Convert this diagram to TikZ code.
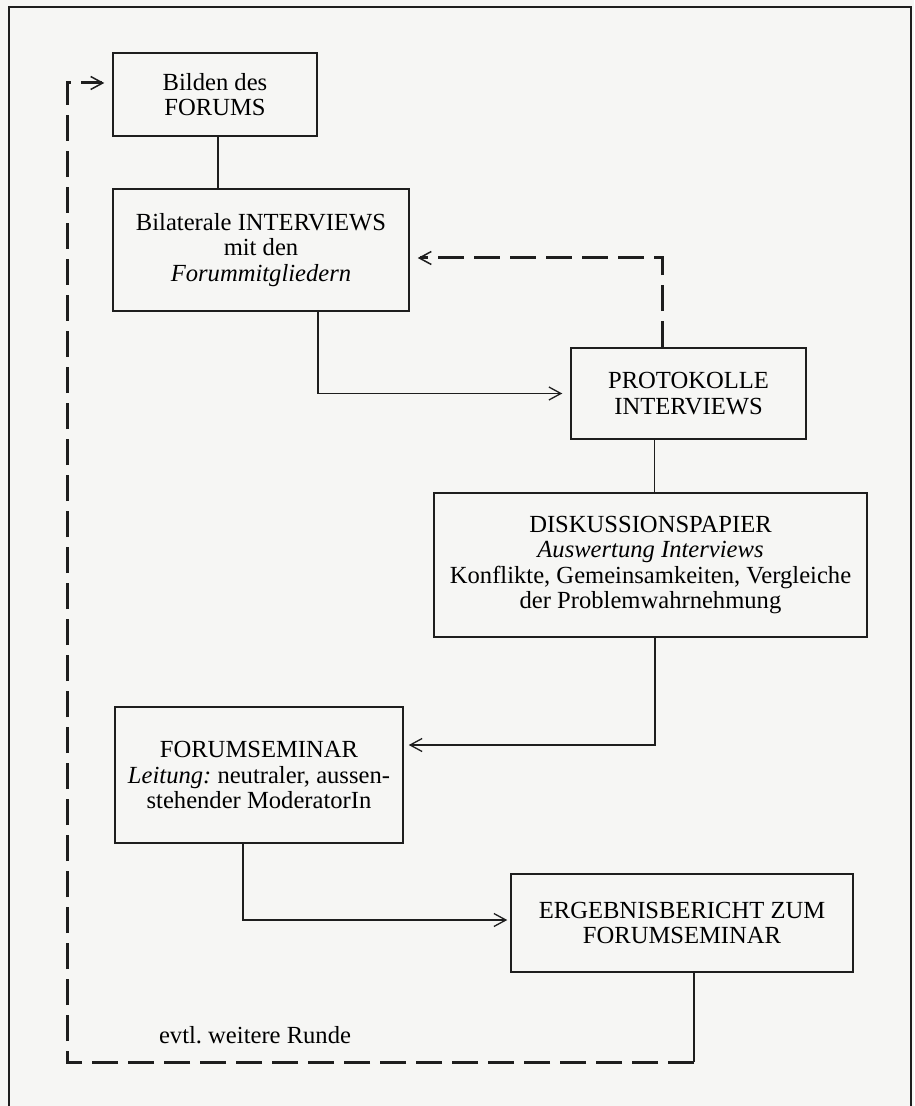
\documentclass[tikz,border=0pt]{standalone}
\usepackage{fontspec}
\setmainfont{Liberation Serif}
\usetikzlibrary{arrows.meta}
\definecolor{grund}{RGB}{246,246,244}
\definecolor{tinte}{RGB}{30,30,30}
\frenchspacing
\begin{document}
\begin{tikzpicture}[x=0.5pt,y=-0.5pt,
  kasten/.style={draw=tinte,line width=0.75pt,align=center,inner sep=0pt,font=\fontsize{12.3}{12.6}\selectfont},
  linie/.style={draw=tinte,line width=0.75pt},
  pfeil/.style={linie,-{Straight Barb[length=6pt,width=6.5pt,line width=0.65pt]}},
  rueck/.style={draw=tinte,line width=1.5pt,dash pattern=on 13pt off 5pt},
  rueckpfeil/.style={rueck,-{Straight Barb[length=6pt,width=6.5pt,line width=0.75pt]}}]
\fill[grund] (0,0) rectangle (914,1106);
\useasboundingbox (0,0) rectangle (914,1106);
\draw[tinte,line width=0.6pt] (9,1106) -- (9,7) -- (911,7) -- (911,1106);
\node[kasten,minimum width=102pt,minimum height=41.5pt] (forum) at (215,94.5) {Bilden des\\FORUMS};
\node[kasten,minimum width=148pt,minimum height=61pt] (interviews) at (261,250) {Bilaterale INTERVIEWS\\mit den\\\textit{Forummitgliedern}};
\node[kasten,minimum width=117.5pt,minimum height=45.5pt] (protokolle) at (688.5,393.5) {PROTOKOLLE\\INTERVIEWS};
\node[kasten,minimum width=216.5pt,minimum height=72pt] (papier) at (650.5,565) {DISKUSSIONSPAPIER\\\textit{Auswertung Interviews}\\Konflikte, Gemeinsamkeiten, Vergleiche\\der Problemwahrnehmung};
\node[kasten,minimum width=144pt,minimum height=68pt] (seminar) at (259,775) {FORUMSEMINAR\\\textit{Leitung:} neutraler, aussen-\\stehender ModeratorIn};
\node[kasten,minimum width=171pt,minimum height=49pt] (bericht) at (682,923) {ERGEBNISBERICHT ZUM\\FORUMSEMINAR};
\node[kasten,draw=none,anchor=base] (runde) at (255,1043) {evtl. weitere Runde};
\coordinate (ecke) at (67,1062);
\draw[linie] ([xshift=1.5pt]forum.south) -- ([xshift=1.5pt]forum.south |- interviews.north);
\draw[pfeil,shorten >=4pt] ([xshift=28.5pt]interviews.south) |- (protokolle.west);
\draw[linie] ([xshift=-17pt]protokolle.south) -- ([xshift=-17pt]protokolle.south |- papier.north);
\draw[pfeil,shorten >=2.5pt] ([xshift=2.25pt]papier.south) |- ([yshift=15pt]seminar.east);
\draw[pfeil,shorten >=1.5pt] ([xshift=-8pt]seminar.south) |- ([yshift=1.5pt]bericht.west);
\draw[rueckpfeil,shorten >=4pt] ([xshift=-13pt]protokolle.north) |- ([yshift=-4pt]interviews.east);
\draw[linie] ([xshift=6pt]bericht.south) -- ([xshift=6pt]bericht.south |- ecke) coordinate (knick);
\draw[rueckpfeil,shorten >=4pt] (knick) -- (ecke) |- ([yshift=5.75pt]forum.west);
\end{tikzpicture}
\end{document}
